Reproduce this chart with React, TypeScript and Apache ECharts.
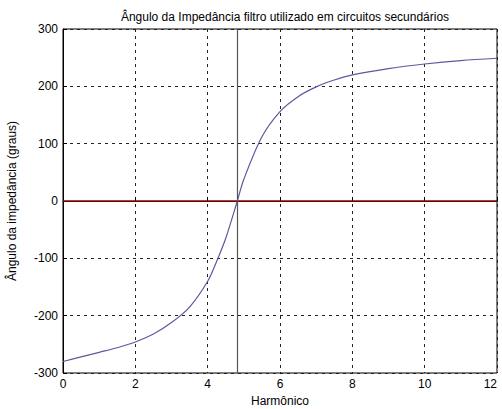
import React, { useEffect, useRef } from "react";
import * as echarts from "echarts";

const harmonicX = [0, 0.5, 1, 1.5, 2, 2.5, 3, 3.5, 4, 4.25, 4.5, 4.82, 5, 5.5, 6, 6.5, 7, 7.5, 8, 9, 10, 11, 12];
const angleY = [-280, -272, -264, -256, -246, -232, -212, -185, -140, -105, -65, 0, 38, 112, 156, 182, 199, 211, 220, 231, 239, 245, 249];
const resonanceX = 4.82;
const xTicks = [0, 2, 4, 6, 8, 10, 12];
const yTicks = [-300, -200, -100, 0, 100, 200, 300];

const titleText = "Ângulo da Impedância filtro utilizado em circuitos secundários";
const yName = "Ângulo da impedância (graus)";
const xName = "Harmônico";

export default function App() {
  const ref = useRef<HTMLDivElement>(null);
  useEffect(() => {
    if (!ref.current) return;
    const chart = echarts.init(ref.current, null, { renderer: "svg" });
    const font = "Liberation Sans, Arial, sans-serif";
    chart.setOption({
      animation: false,
      backgroundColor: "#fff",
      title: {
        text: titleText,
        left: 280,
        top: 6,
        textAlign: "center",
        textStyle: { fontSize: 12, fontWeight: "normal", color: "#000", fontFamily: font },
      },
      grid: {
        left: 63, right: 5, top: 29, bottom: 36,
        outerBoundsMode: "none",
        containLabel: false,
        show: true, borderColor: "#000", borderWidth: 1, backgroundColor: "#fff",
      },
      xAxis: {
        type: "value",
        min: xTicks[0],
        max: xTicks[xTicks.length - 1],
        interval: 2,
        name: xName,
        nameLocation: "middle",
        nameGap: 21,
        nameTextStyle: { fontSize: 12, color: "#000", fontFamily: font },
        axisLine: { lineStyle: { color: "#000" } },
        axisTick: { inside: true, length: 4, lineStyle: { color: "#000" } },
        axisLabel: { fontSize: 12, color: "#000", fontFamily: font, margin: 5, alignMaxLabel: "right" },
        splitLine: { show: true, lineStyle: { color: "#222", type: [3, 4], width: 1 } },
      },
      yAxis: {
        type: "value",
        min: yTicks[0],
        max: yTicks[yTicks.length - 1],
        interval: 100,
        name: yName,
        nameLocation: "middle",
        nameGap: 45,
        nameTextStyle: { fontSize: 12, color: "#000", fontFamily: font },
        axisLine: { lineStyle: { color: "#000" } },
        axisTick: { inside: true, length: 4, lineStyle: { color: "#000" } },
        axisLabel: { fontSize: 12, color: "#000", fontFamily: font, margin: 5 },
        splitLine: { show: true, lineStyle: { color: "#222", type: [3, 4], width: 1 } },
      },
      series: [
        {
          type: "line",
          data: harmonicX.map((x, i) => [x, angleY[i]]),
          smooth: 0.3,
          showSymbol: false,
          lineStyle: { color: "#5a5a9e", width: 1.2 },
          z: 3,
          markLine: {
            silent: true,
            symbol: "none",
            label: { show: false },
            data: [
              { yAxis: 0, lineStyle: { color: "#8b0000", width: 1.5, type: "solid" } },
              { xAxis: resonanceX, lineStyle: { color: "#555", width: 1.2, type: "solid" } },
            ],
          },
        },
      ],
    });
    return () => chart.dispose();
  }, []);
  return <div ref={ref} style={{ width: 502, height: 409, position: "absolute", left: 0, top: 0 }} />;
}
